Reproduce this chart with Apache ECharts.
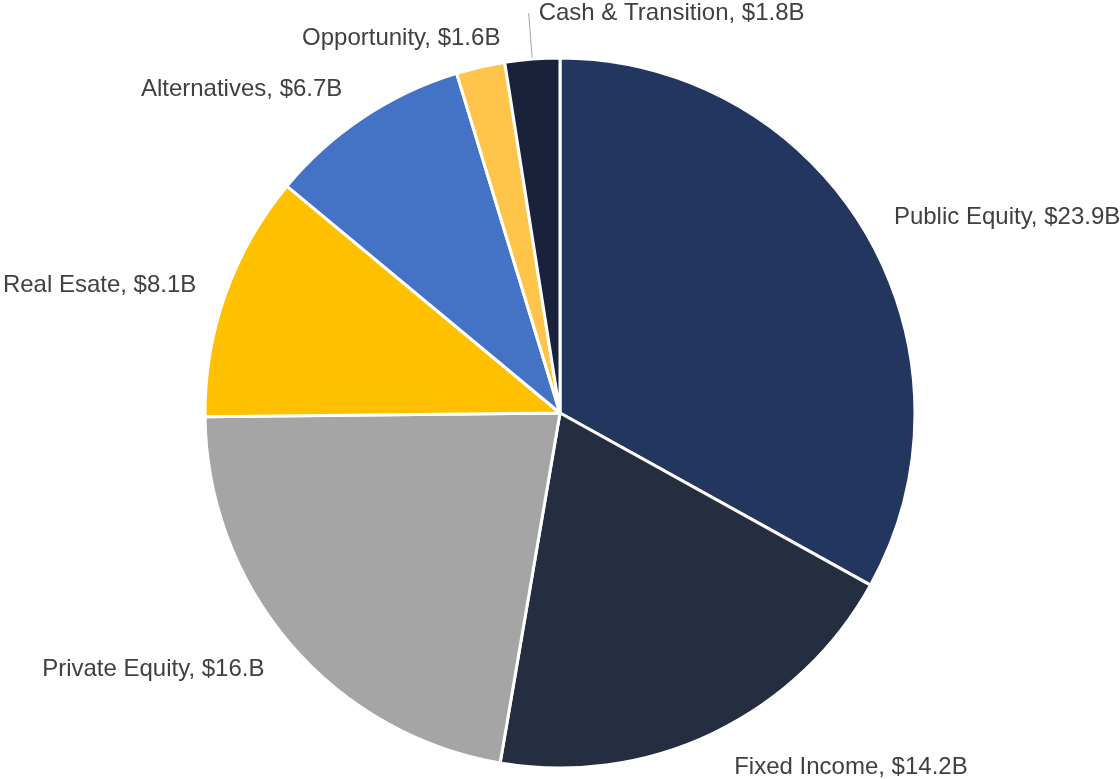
<!DOCTYPE html>
<html>
<head>
<meta charset="utf-8">
<script src="https://cdn.jsdelivr.net/npm/echarts@6/dist/echarts.min.js"></script>
<style>
  html, body { margin: 0; padding: 0; background: #fff; }
  #chart { width: 1120px; height: 779px; }
</style>
</head>
<body>
<div id="chart"></div>
<script>
// 数据
var categories = ['Public Equity', 'Fixed Income', 'Private Equity', 'Real Esate', 'Alternatives', 'Opportunity', 'Cash & Transition'];
var values = [23.9, 14.2, 16.0, 8.1, 6.7, 1.6, 1.8];
var valueLabels = ['$23.9B', '$14.2B', '$16.B', '$8.1B', '$6.7B', '$1.6B', '$1.8B'];
var colors = ['#22365f', '#252d40', '#a5a5a5', '#ffc000', '#4472c4', '#ffc54a', '#19223a'];

(function() {
  var myChart = echarts.init(document.getElementById('chart'));

  var data = categories.map(function(name, i) {
    var item = {
      name: name,
      value: values[i],
      itemStyle: { color: colors[i] }
    };
    // 现金这一块有引导线，且文字向右
    if (name === 'Cash & Transition') {
      item.labelLine = { show: true, length: 46, length2: 0 };
    }
    return item;
  });

  // 标签微调 (像素偏移)
  var labelShift = [[-8, 3], [0, 2], [7, 3], [6, 3], [11, 2], [83, -1], [15, 0]];

  var option = {
    animation: false,
    series: [
      {
        type: 'pie',
        center: [560, 413],
        radius: 355,
        startAngle: 90,
        clockwise: true,
        data: data,
        itemStyle: {
          borderColor: '#fff',
          borderWidth: 3
        },
        label: {
          show: true,
          position: 'outside',
          overflow: 'none',
          color: '#404040',
          fontFamily: '"Liberation Sans", Arial, sans-serif',
          fontSize: 24,
          formatter: function(p) {
            return p.name + ', ' + valueLabels[p.dataIndex];
          }
        },
        labelLine: {
          show: false,
          length: 36,
          length2: 0,
          lineStyle: { color: '#a6a6a6', width: 1 }
        },
        labelLayout: function(params) {
          var s = labelShift[params.dataIndex];
          var res = { dx: s[0], dy: s[1] };
          if (params.dataIndex === 6) {
            res.align = 'left';
          }
          return res;
        }
      }
    ]
  };

  myChart.setOption(option);
})();
</script>
</body>
</html>
